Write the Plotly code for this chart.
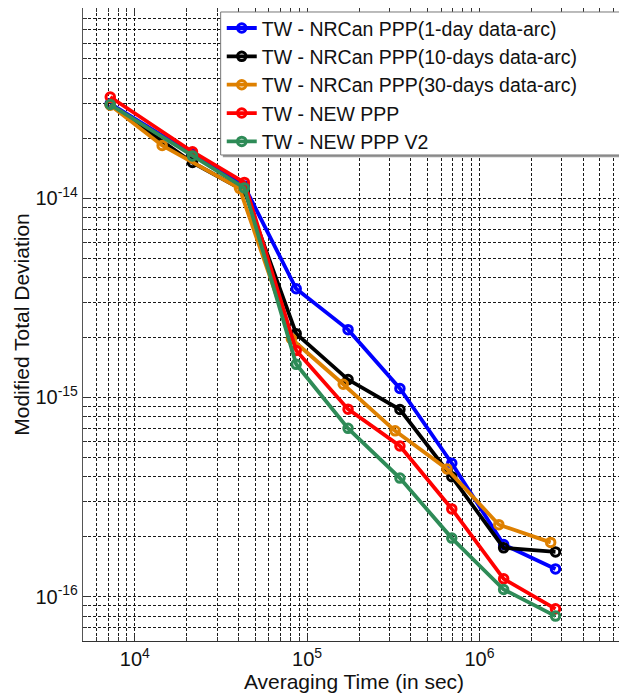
import numpy as np
import plotly.graph_objects as go

# ---- data ----
tau_std = [7200, 21600, 43200, 86400, 172800, 345600, 691200, 1382400, 2764800]
tau_30 = [7200, 14400, 40500, 81000, 162000, 324000, 648000, 1296000, 2592000]

nrcan_1day = [2.98e-14, 1.66e-14, 1.15e-14, 3.51e-15, 2.19e-15, 1.11e-15, 4.68e-16, 1.83e-16, 1.38e-16]
nrcan_10day = [2.95e-14, 1.51e-14, 1.09e-14, 2.09e-15, 1.23e-15, 8.7e-16, 4.0e-16, 1.76e-16, 1.68e-16]
nrcan_30day = [2.93e-14, 1.84e-14, 1.12e-14, 1.97e-15, 1.165e-15, 6.8e-16, 4.38e-16, 2.3e-16, 1.875e-16]
new_ppp = [3.22e-14, 1.71e-14, 1.2e-14, 1.72e-15, 8.74e-16, 5.71e-16, 2.76e-16, 1.23e-16, 8.7e-17]
new_ppp_v2 = [2.95e-14, 1.63e-14, 1.126e-14, 1.467e-15, 7.0e-16, 3.94e-16, 1.97e-16, 1.088e-16, 8.0e-17]

names = ["TW - NRCan PPP(1-day data-arc)", "TW - NRCan PPP(10-days data-arc)",
         "TW - NRCan PPP(30-days data-arc)", "TW - NEW PPP", "TW - NEW PPP V2"]
colors = ["#0000FF", "#000000", "#DE8000", "#FF0000", "#2E8B57"]
xs = [tau_std, tau_std, tau_30, tau_std, tau_std]
ys = [nrcan_1day, nrcan_10day, nrcan_30day, new_ppp, new_ppp_v2]

x_decades = [4, 5, 6]
y_decades = [-16, -15, -14]

FONT = "Arial, Liberation Sans, sans-serif"

fig = go.Figure()
for n, c, x, y in zip(names, colors, xs, ys):
    fig.add_trace(go.Scatter(
        x=x, y=y, name=n, mode="lines+markers",
        line=dict(color=c, width=3.8),
        marker=dict(symbol="circle-open", size=8.5, color=c, line=dict(color=c, width=3)),
    ))

def minor_vals(lo, hi):
    vals = []
    for e in range(lo, hi + 1):
        for m in range(2, 10):
            vals.append(m * 10.0 ** e)
    return vals

grid_style = dict(showgrid=True, gridcolor="rgba(0,0,0,0.9)", gridwidth=1, griddash="3px,2px")

fig.update_xaxes(
    type="log", automargin=False,
    range=[np.log10(5000), np.log10(7e6)],
    tickmode="array",
    tickvals=[10.0 ** e for e in x_decades],
    ticktext=["10<sup>%d</sup>" % e for e in x_decades],
    ticks="inside", ticklen=7, tickcolor="#333", tickwidth=1,
    tickfont=dict(family=FONT, size=20, color="#111"),
    minor=dict(tickmode="array", tickvals=minor_vals(3, 6), ticks="inside", ticklen=4,
               tickcolor="#333", **grid_style),
    showline=True, linecolor="#333", linewidth=1.2, mirror="ticks",
    zeroline=False,
    title=dict(text="Averaging Time (in sec)", font=dict(family=FONT, size=21, color="#111"), standoff=0),
    **grid_style,
)
fig.update_yaxes(
    type="log", automargin=False,
    range=[np.log10(6e-17), np.log10(9e-14)],
    tickmode="array",
    tickvals=[10.0 ** e for e in y_decades],
    ticktext=["10<sup>%d</sup>" % e for e in y_decades],
    ticks="inside", ticklen=7, tickcolor="#333", tickwidth=1,
    tickfont=dict(family=FONT, size=20, color="#111"),
    minor=dict(tickmode="array", tickvals=minor_vals(-17, -14), ticks="inside", ticklen=4,
               tickcolor="#333", **grid_style),
    showline=True, linecolor="#555", linewidth=1.2, mirror="ticks",
    zeroline=False,
    title=dict(text="Modified Total Deviation", font=dict(family=FONT, size=21, color="#111"), standoff=0),
    **grid_style,
)

# legend frame (drawn as shapes so it can be as wide as the reference's box)
LX0, LX1, LY0, LY1 = 0.254, 0.9908, 0.7678, 0.9937
fig.add_shape(type="rect", xref="paper", yref="paper", layer="above",
              x0=LX0 + 0.004, x1=LX1 + 0.004, y0=LY0 - 0.0035, y1=LY1 - 0.0035,
              line=dict(width=0), fillcolor="#9a9a9a")
fig.add_shape(type="rect", xref="paper", yref="paper", layer="above",
              x0=LX0, x1=LX1, y0=LY0, y1=LY1,
              line=dict(color="#777", width=1), fillcolor="white")

fig.update_layout(
    width=619, height=688,
    margin=dict(l=75, r=2, t=0, b=55),
    paper_bgcolor="white", plot_bgcolor="white",
    font=dict(family=FONT, color="#111"),
    legend=dict(
        x=LX0 + 0.002, y=LY1 + 0.005, xanchor="left", yanchor="top",
        bgcolor="rgba(0,0,0,0)", borderwidth=0,
        font=dict(family=FONT, size=19.5, color="#111"),
        itemwidth=30, tracegroupgap=0,
    ),
    showlegend=True,
)

fig.write_html("out.html")
